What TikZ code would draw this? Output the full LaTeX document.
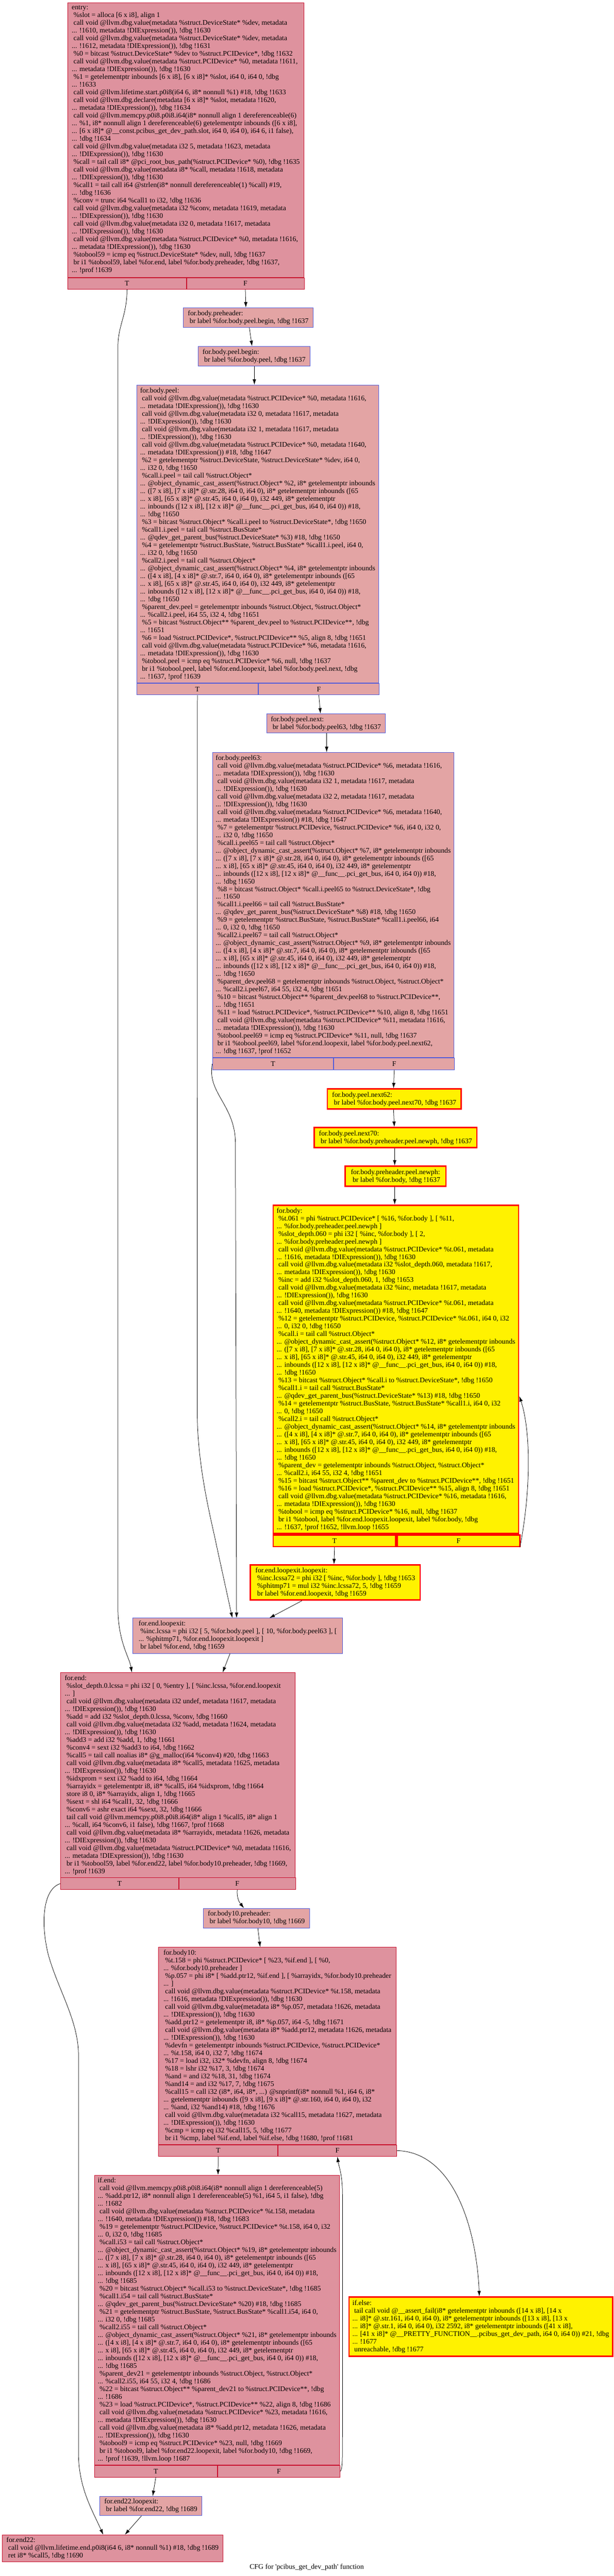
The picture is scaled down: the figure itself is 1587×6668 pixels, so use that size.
\documentclass[tikz,border=0pt]{standalone}
\usepackage{fontspec}
\setmainfont{Liberation Serif}[Ligatures=TeXOff]
\usetikzlibrary{arrows.meta}
\definecolor{hotfill}{RGB}{222,146,158}
\definecolor{hotline}{RGB}{200,16,46}
\definecolor{warmfill}{RGB}{227,164,164}
\definecolor{warmline}{RGB}{82,92,218}
\tikzset{
  blk/.style={rectangle, anchor=north west, align=left, inner xsep=8pt, inner ysep=0pt, line width=1.2pt, font=\fontsize{18.4}{20}\selectfont},
  hot/.style={blk, draw=hotline, fill=hotfill},
  warm/.style={blk, draw=warmline, fill=warmfill},
  yel/.style={blk, draw=red, fill=yellow, line width=3.5pt},
  tfcell/.style={minimum height=30pt, inner sep=0pt},
  cfgedge/.style={-{Latex[length=14pt,width=9pt]}, line width=1pt}
}
\newcommand{\tfrow}[4]{
  \node[#1, tfcell, minimum width=#3] (#2T) at (#2.south west) {T};
  \node[#1, tfcell, minimum width=#4] (#2F) at (#2T.north east) {F};
}

\begin{document}
\begin{tikzpicture}[x=1pt, y=-1pt]
\useasboundingbox (0,0) rectangle (1587,6668);

\node[hot, minimum width=610pt, minimum height=711pt] (entry) at (175,6) {entry:\\
~\%slot = alloca [6 x i8], align 1\\
~call void @llvm.dbg.value(metadata \%struct.DeviceState* \%dev, metadata\\
... !1610, metadata !DIExpression()), !dbg !1630\\
~call void @llvm.dbg.value(metadata \%struct.DeviceState* \%dev, metadata\\
... !1612, metadata !DIExpression()), !dbg !1631\\
~\%0 = bitcast \%struct.DeviceState* \%dev to \%struct.PCIDevice*, !dbg !1632\\
~call void @llvm.dbg.value(metadata \%struct.PCIDevice* \%0, metadata !1611,\\
... metadata !DIExpression()), !dbg !1630\\
~\%1 = getelementptr inbounds [6 x i8], [6 x i8]* \%slot, i64 0, i64 0, !dbg\\
... !1633\\
~call void @llvm.lifetime.start.p0i8(i64 6, i8* nonnull \%1) \#18, !dbg !1633\\
~call void @llvm.dbg.declare(metadata [6 x i8]* \%slot, metadata !1620,\\
... metadata !DIExpression()), !dbg !1634\\
~call void @llvm.memcpy.p0i8.p0i8.i64(i8* nonnull align 1 dereferenceable(6)\\
... \%1, i8* nonnull align 1 dereferenceable(6) getelementptr inbounds ([6 x i8],\\
... [6 x i8]* @\_\_const.pcibus\_get\_dev\_path.slot, i64 0, i64 0), i64 6, i1 false),\\
... !dbg !1634\\
~call void @llvm.dbg.value(metadata i32 5, metadata !1623, metadata\\
... !DIExpression()), !dbg !1630\\
~\%call = tail call i8* @pci\_root\_bus\_path(\%struct.PCIDevice* \%0), !dbg !1635\\
~call void @llvm.dbg.value(metadata i8* \%call, metadata !1618, metadata\\
... !DIExpression()), !dbg !1630\\
~\%call1 = tail call i64 @strlen(i8* nonnull dereferenceable(1) \%call) \#19,\\
... !dbg !1636\\
~\%conv = trunc i64 \%call1 to i32, !dbg !1636\\
~call void @llvm.dbg.value(metadata i32 \%conv, metadata !1619, metadata\\
... !DIExpression()), !dbg !1630\\
~call void @llvm.dbg.value(metadata i32 0, metadata !1617, metadata\\
... !DIExpression()), !dbg !1630\\
~call void @llvm.dbg.value(metadata \%struct.PCIDevice* \%0, metadata !1616,\\
... metadata !DIExpression()), !dbg !1630\\
~\%tobool59 = icmp eq \%struct.DeviceState* \%dev, null, !dbg !1637\\
~br i1 \%tobool59, label \%for.end, label \%for.body.preheader, !dbg !1637,\\
... !prof !1639};
\tfrow{hot}{entry}{306pt}{304pt}

\node[warm, minimum width=335pt, minimum height=51pt] (pre) at (474,796) {for.body.preheader:\\
~br label \%for.body.peel.begin, !dbg !1637};

\node[warm, minimum width=289pt, minimum height=51pt] (peelbegin) at (512,896) {for.body.peel.begin:\\
~br label \%for.body.peel, !dbg !1637};

\node[warm, minimum width=626pt, minimum height=771pt] (peel) at (353,996) {for.body.peel:\\
~call void @llvm.dbg.value(metadata \%struct.PCIDevice* \%0, metadata !1616,\\
... metadata !DIExpression()), !dbg !1630\\
~call void @llvm.dbg.value(metadata i32 0, metadata !1617, metadata\\
... !DIExpression()), !dbg !1630\\
~call void @llvm.dbg.value(metadata i32 1, metadata !1617, metadata\\
... !DIExpression()), !dbg !1630\\
~call void @llvm.dbg.value(metadata \%struct.PCIDevice* \%0, metadata !1640,\\
... metadata !DIExpression()) \#18, !dbg !1647\\
~\%2 = getelementptr \%struct.DeviceState, \%struct.DeviceState* \%dev, i64 0,\\
... i32 0, !dbg !1650\\
~\%call.i.peel = tail call \%struct.Object*\\
... @object\_dynamic\_cast\_assert(\%struct.Object* \%2, i8* getelementptr inbounds\\
... ([7 x i8], [7 x i8]* @.str.28, i64 0, i64 0), i8* getelementptr inbounds ([65\\
... x i8], [65 x i8]* @.str.45, i64 0, i64 0), i32 449, i8* getelementptr\\
... inbounds ([12 x i8], [12 x i8]* @\_\_func\_\_.pci\_get\_bus, i64 0, i64 0)) \#18,\\
... !dbg !1650\\
~\%3 = bitcast \%struct.Object* \%call.i.peel to \%struct.DeviceState*, !dbg !1650\\
~\%call1.i.peel = tail call \%struct.BusState*\\
... @qdev\_get\_parent\_bus(\%struct.DeviceState* \%3) \#18, !dbg !1650\\
~\%4 = getelementptr \%struct.BusState, \%struct.BusState* \%call1.i.peel, i64 0,\\
... i32 0, !dbg !1650\\
~\%call2.i.peel = tail call \%struct.Object*\\
... @object\_dynamic\_cast\_assert(\%struct.Object* \%4, i8* getelementptr inbounds\\
... ([4 x i8], [4 x i8]* @.str.7, i64 0, i64 0), i8* getelementptr inbounds ([65\\
... x i8], [65 x i8]* @.str.45, i64 0, i64 0), i32 449, i8* getelementptr\\
... inbounds ([12 x i8], [12 x i8]* @\_\_func\_\_.pci\_get\_bus, i64 0, i64 0)) \#18,\\
... !dbg !1650\\
~\%parent\_dev.peel = getelementptr inbounds \%struct.Object, \%struct.Object*\\
... \%call2.i.peel, i64 55, i32 4, !dbg !1651\\
~\%5 = bitcast \%struct.Object** \%parent\_dev.peel to \%struct.PCIDevice**, !dbg\\
... !1651\\
~\%6 = load \%struct.PCIDevice*, \%struct.PCIDevice** \%5, align 8, !dbg !1651\\
~call void @llvm.dbg.value(metadata \%struct.PCIDevice* \%6, metadata !1616,\\
... metadata !DIExpression()), !dbg !1630\\
~\%tobool.peel = icmp eq \%struct.PCIDevice* \%6, null, !dbg !1637\\
~br i1 \%tobool.peel, label \%for.end.loopexit, label \%for.body.peel.next, !dbg\\
... !1637, !prof !1639};
\tfrow{warm}{peel}{314pt}{312pt}

\node[warm, minimum width=307pt, minimum height=50pt] (peelnext) at (689,1847) {for.body.peel.next:\\
~br label \%for.body.peel63, !dbg !1637};

\node[warm, minimum width=625pt, minimum height=790pt] (peel63) at (549,1947) {for.body.peel63:\\
~call void @llvm.dbg.value(metadata \%struct.PCIDevice* \%6, metadata !1616,\\
... metadata !DIExpression()), !dbg !1630\\
~call void @llvm.dbg.value(metadata i32 1, metadata !1617, metadata\\
... !DIExpression()), !dbg !1630\\
~call void @llvm.dbg.value(metadata i32 2, metadata !1617, metadata\\
... !DIExpression()), !dbg !1630\\
~call void @llvm.dbg.value(metadata \%struct.PCIDevice* \%6, metadata !1640,\\
... metadata !DIExpression()) \#18, !dbg !1647\\
~\%7 = getelementptr \%struct.PCIDevice, \%struct.PCIDevice* \%6, i64 0, i32 0,\\
... i32 0, !dbg !1650\\
~\%call.i.peel65 = tail call \%struct.Object*\\
... @object\_dynamic\_cast\_assert(\%struct.Object* \%7, i8* getelementptr inbounds\\
... ([7 x i8], [7 x i8]* @.str.28, i64 0, i64 0), i8* getelementptr inbounds ([65\\
... x i8], [65 x i8]* @.str.45, i64 0, i64 0), i32 449, i8* getelementptr\\
... inbounds ([12 x i8], [12 x i8]* @\_\_func\_\_.pci\_get\_bus, i64 0, i64 0)) \#18,\\
... !dbg !1650\\
~\%8 = bitcast \%struct.Object* \%call.i.peel65 to \%struct.DeviceState*, !dbg\\
... !1650\\
~\%call1.i.peel66 = tail call \%struct.BusState*\\
... @qdev\_get\_parent\_bus(\%struct.DeviceState* \%8) \#18, !dbg !1650\\
~\%9 = getelementptr \%struct.BusState, \%struct.BusState* \%call1.i.peel66, i64\\
... 0, i32 0, !dbg !1650\\
~\%call2.i.peel67 = tail call \%struct.Object*\\
... @object\_dynamic\_cast\_assert(\%struct.Object* \%9, i8* getelementptr inbounds\\
... ([4 x i8], [4 x i8]* @.str.7, i64 0, i64 0), i8* getelementptr inbounds ([65\\
... x i8], [65 x i8]* @.str.45, i64 0, i64 0), i32 449, i8* getelementptr\\
... inbounds ([12 x i8], [12 x i8]* @\_\_func\_\_.pci\_get\_bus, i64 0, i64 0)) \#18,\\
... !dbg !1650\\
~\%parent\_dev.peel68 = getelementptr inbounds \%struct.Object, \%struct.Object*\\
... \%call2.i.peel67, i64 55, i32 4, !dbg !1651\\
~\%10 = bitcast \%struct.Object** \%parent\_dev.peel68 to \%struct.PCIDevice**,\\
... !dbg !1651\\
~\%11 = load \%struct.PCIDevice*, \%struct.PCIDevice** \%10, align 8, !dbg !1651\\
~call void @llvm.dbg.value(metadata \%struct.PCIDevice* \%11, metadata !1616,\\
... metadata !DIExpression()), !dbg !1630\\
~\%tobool.peel69 = icmp eq \%struct.PCIDevice* \%11, null, !dbg !1637\\
~br i1 \%tobool.peel69, label \%for.end.loopexit, label \%for.body.peel.next62,\\
... !dbg !1637, !prof !1652};
\tfrow{warm}{peel63}{313pt}{312pt}

\node[yel, minimum width=346pt, minimum height=52pt] (next62) at (845,2817) {for.body.peel.next62:\\
~br label \%for.body.peel.next70, !dbg !1637};

\node[yel, minimum width=421pt, minimum height=52pt] (next70) at (811,2917) {for.body.peel.next70:\\
~br label \%for.body.preheader.peel.newph, !dbg !1637};

\node[yel, minimum width=261pt, minimum height=52pt] (newph) at (891,3017) {for.body.preheader.peel.newph:\\
~br label \%for.body, !dbg !1637};

\node[yel, minimum width=635pt, minimum height=850pt] (body) at (705,3118) {for.body:\\
~\%t.061 = phi \%struct.PCIDevice* [ \%16, \%for.body ], [ \%11,\\
... \%for.body.preheader.peel.newph ]\\
~\%slot\_depth.060 = phi i32 [ \%inc, \%for.body ], [ 2,\\
... \%for.body.preheader.peel.newph ]\\
~call void @llvm.dbg.value(metadata \%struct.PCIDevice* \%t.061, metadata\\
... !1616, metadata !DIExpression()), !dbg !1630\\
~call void @llvm.dbg.value(metadata i32 \%slot\_depth.060, metadata !1617,\\
... metadata !DIExpression()), !dbg !1630\\
~\%inc = add i32 \%slot\_depth.060, 1, !dbg !1653\\
~call void @llvm.dbg.value(metadata i32 \%inc, metadata !1617, metadata\\
... !DIExpression()), !dbg !1630\\
~call void @llvm.dbg.value(metadata \%struct.PCIDevice* \%t.061, metadata\\
... !1640, metadata !DIExpression()) \#18, !dbg !1647\\
~\%12 = getelementptr \%struct.PCIDevice, \%struct.PCIDevice* \%t.061, i64 0, i32\\
... 0, i32 0, !dbg !1650\\
~\%call.i = tail call \%struct.Object*\\
... @object\_dynamic\_cast\_assert(\%struct.Object* \%12, i8* getelementptr inbounds\\
... ([7 x i8], [7 x i8]* @.str.28, i64 0, i64 0), i8* getelementptr inbounds ([65\\
... x i8], [65 x i8]* @.str.45, i64 0, i64 0), i32 449, i8* getelementptr\\
... inbounds ([12 x i8], [12 x i8]* @\_\_func\_\_.pci\_get\_bus, i64 0, i64 0)) \#18,\\
... !dbg !1650\\
~\%13 = bitcast \%struct.Object* \%call.i to \%struct.DeviceState*, !dbg !1650\\
~\%call1.i = tail call \%struct.BusState*\\
... @qdev\_get\_parent\_bus(\%struct.DeviceState* \%13) \#18, !dbg !1650\\
~\%14 = getelementptr \%struct.BusState, \%struct.BusState* \%call1.i, i64 0, i32\\
... 0, !dbg !1650\\
~\%call2.i = tail call \%struct.Object*\\
... @object\_dynamic\_cast\_assert(\%struct.Object* \%14, i8* getelementptr inbounds\\
... ([4 x i8], [4 x i8]* @.str.7, i64 0, i64 0), i8* getelementptr inbounds ([65\\
... x i8], [65 x i8]* @.str.45, i64 0, i64 0), i32 449, i8* getelementptr\\
... inbounds ([12 x i8], [12 x i8]* @\_\_func\_\_.pci\_get\_bus, i64 0, i64 0)) \#18,\\
... !dbg !1650\\
~\%parent\_dev = getelementptr inbounds \%struct.Object, \%struct.Object*\\
... \%call2.i, i64 55, i32 4, !dbg !1651\\
~\%15 = bitcast \%struct.Object** \%parent\_dev to \%struct.PCIDevice**, !dbg !1651\\
~\%16 = load \%struct.PCIDevice*, \%struct.PCIDevice** \%15, align 8, !dbg !1651\\
~call void @llvm.dbg.value(metadata \%struct.PCIDevice* \%16, metadata !1616,\\
... metadata !DIExpression()), !dbg !1630\\
~\%tobool = icmp eq \%struct.PCIDevice* \%16, null, !dbg !1637\\
~br i1 \%tobool, label \%for.end.loopexit.loopexit, label \%for.body, !dbg\\
... !1637, !prof !1652, !llvm.loop !1655};
\tfrow{yel}{body}{317pt}{318pt}

\node[yel, minimum width=439pt, minimum height=91pt] (exit2) at (646,4049) {for.end.loopexit.loopexit:\\
~\%inc.lcssa72 = phi i32 [ \%inc, \%for.body ], !dbg !1653\\
~\%phitmp71 = mul i32 \%inc.lcssa72, 5, !dbg !1659\\
~br label \%for.end.loopexit, !dbg !1659};

\node[warm, minimum width=543pt, minimum height=91pt] (exit) at (343,4188) {for.end.loopexit:\\
~\%inc.lcssa = phi i32 [ 5, \%for.body.peel ], [ 10, \%for.body.peel63 ], [\\
... \%phitmp71, \%for.end.loopexit.loopexit ]\\
~br label \%for.end, !dbg !1659};

\node[hot, minimum width=607pt, minimum height=530pt] (forend) at (156,4329) {for.end:\\
~\%slot\_depth.0.lcssa = phi i32 [ 0, \%entry ], [ \%inc.lcssa, \%for.end.loopexit\\
... ]\\
~call void @llvm.dbg.value(metadata i32 undef, metadata !1617, metadata\\
... !DIExpression()), !dbg !1630\\
~\%add = add i32 \%slot\_depth.0.lcssa, \%conv, !dbg !1660\\
~call void @llvm.dbg.value(metadata i32 \%add, metadata !1624, metadata\\
... !DIExpression()), !dbg !1630\\
~\%add3 = add i32 \%add, 1, !dbg !1661\\
~\%conv4 = sext i32 \%add3 to i64, !dbg !1662\\
~\%call5 = tail call noalias i8* @g\_malloc(i64 \%conv4) \#20, !dbg !1663\\
~call void @llvm.dbg.value(metadata i8* \%call5, metadata !1625, metadata\\
... !DIExpression()), !dbg !1630\\
~\%idxprom = sext i32 \%add to i64, !dbg !1664\\
~\%arrayidx = getelementptr i8, i8* \%call5, i64 \%idxprom, !dbg !1664\\
~store i8 0, i8* \%arrayidx, align 1, !dbg !1665\\
~\%sext = shl i64 \%call1, 32, !dbg !1666\\
~\%conv6 = ashr exact i64 \%sext, 32, !dbg !1666\\
~tail call void @llvm.memcpy.p0i8.p0i8.i64(i8* align 1 \%call5, i8* align 1\\
... \%call, i64 \%conv6, i1 false), !dbg !1667, !prof !1668\\
~call void @llvm.dbg.value(metadata i8* \%arrayidx, metadata !1626, metadata\\
... !DIExpression()), !dbg !1630\\
~call void @llvm.dbg.value(metadata \%struct.PCIDevice* \%0, metadata !1616,\\
... metadata !DIExpression()), !dbg !1630\\
~br i1 \%tobool59, label \%for.end22, label \%for.body10.preheader, !dbg !1669,\\
... !prof !1639};
\tfrow{hot}{forend}{305pt}{302pt}

\node[warm, minimum width=275pt, minimum height=51pt] (b10pre) at (525,4939) {for.body10.preheader:\\
~br label \%for.body10, !dbg !1669};

\node[hot, minimum width=614pt, minimum height=510pt] (body10) at (410,5040) {for.body10:\\
~\%t.158 = phi \%struct.PCIDevice* [ \%23, \%if.end ], [ \%0,\\
... \%for.body10.preheader ]\\
~\%p.057 = phi i8* [ \%add.ptr12, \%if.end ], [ \%arrayidx, \%for.body10.preheader\\
... ]\\
~call void @llvm.dbg.value(metadata \%struct.PCIDevice* \%t.158, metadata\\
... !1616, metadata !DIExpression()), !dbg !1630\\
~call void @llvm.dbg.value(metadata i8* \%p.057, metadata !1626, metadata\\
... !DIExpression()), !dbg !1630\\
~\%add.ptr12 = getelementptr i8, i8* \%p.057, i64 -5, !dbg !1671\\
~call void @llvm.dbg.value(metadata i8* \%add.ptr12, metadata !1626, metadata\\
... !DIExpression()), !dbg !1630\\
~\%devfn = getelementptr inbounds \%struct.PCIDevice, \%struct.PCIDevice*\\
... \%t.158, i64 0, i32 7, !dbg !1674\\
~\%17 = load i32, i32* \%devfn, align 8, !dbg !1674\\
~\%18 = lshr i32 \%17, 3, !dbg !1674\\
~\%and = and i32 \%18, 31, !dbg !1674\\
~\%and14 = and i32 \%17, 7, !dbg !1675\\
~\%call15 = call i32 (i8*, i64, i8*, ...) @snprintf(i8* nonnull \%1, i64 6, i8*\\
... getelementptr inbounds ([9 x i8], [9 x i8]* @.str.160, i64 0, i64 0), i32\\
... \%and, i32 \%and14) \#18, !dbg !1676\\
~call void @llvm.dbg.value(metadata i32 \%call15, metadata !1627, metadata\\
... !DIExpression()), !dbg !1630\\
~\%cmp = icmp eq i32 \%call15, 5, !dbg !1677\\
~br i1 \%cmp, label \%if.end, label \%if.else, !dbg !1680, !prof !1681};
\tfrow{hot}{body10}{308pt}{306pt}

\node[hot, minimum width=634pt, minimum height=750pt] (ifend) at (244,5630) {if.end:\\
~call void @llvm.memcpy.p0i8.p0i8.i64(i8* nonnull align 1 dereferenceable(5)\\
... \%add.ptr12, i8* nonnull align 1 dereferenceable(5) \%1, i64 5, i1 false), !dbg\\
... !1682\\
~call void @llvm.dbg.value(metadata \%struct.PCIDevice* \%t.158, metadata\\
... !1640, metadata !DIExpression()) \#18, !dbg !1683\\
~\%19 = getelementptr \%struct.PCIDevice, \%struct.PCIDevice* \%t.158, i64 0, i32\\
... 0, i32 0, !dbg !1685\\
~\%call.i53 = tail call \%struct.Object*\\
... @object\_dynamic\_cast\_assert(\%struct.Object* \%19, i8* getelementptr inbounds\\
... ([7 x i8], [7 x i8]* @.str.28, i64 0, i64 0), i8* getelementptr inbounds ([65\\
... x i8], [65 x i8]* @.str.45, i64 0, i64 0), i32 449, i8* getelementptr\\
... inbounds ([12 x i8], [12 x i8]* @\_\_func\_\_.pci\_get\_bus, i64 0, i64 0)) \#18,\\
... !dbg !1685\\
~\%20 = bitcast \%struct.Object* \%call.i53 to \%struct.DeviceState*, !dbg !1685\\
~\%call1.i54 = tail call \%struct.BusState*\\
... @qdev\_get\_parent\_bus(\%struct.DeviceState* \%20) \#18, !dbg !1685\\
~\%21 = getelementptr \%struct.BusState, \%struct.BusState* \%call1.i54, i64 0,\\
... i32 0, !dbg !1685\\
~\%call2.i55 = tail call \%struct.Object*\\
... @object\_dynamic\_cast\_assert(\%struct.Object* \%21, i8* getelementptr inbounds\\
... ([4 x i8], [4 x i8]* @.str.7, i64 0, i64 0), i8* getelementptr inbounds ([65\\
... x i8], [65 x i8]* @.str.45, i64 0, i64 0), i32 449, i8* getelementptr\\
... inbounds ([12 x i8], [12 x i8]* @\_\_func\_\_.pci\_get\_bus, i64 0, i64 0)) \#18,\\
... !dbg !1685\\
~\%parent\_dev21 = getelementptr inbounds \%struct.Object, \%struct.Object*\\
... \%call2.i55, i64 55, i32 4, !dbg !1686\\
~\%22 = bitcast \%struct.Object** \%parent\_dev21 to \%struct.PCIDevice**, !dbg\\
... !1686\\
~\%23 = load \%struct.PCIDevice*, \%struct.PCIDevice** \%22, align 8, !dbg !1686\\
~call void @llvm.dbg.value(metadata \%struct.PCIDevice* \%23, metadata !1616,\\
... metadata !DIExpression()), !dbg !1630\\
~call void @llvm.dbg.value(metadata i8* \%add.ptr12, metadata !1626, metadata\\
... !DIExpression()), !dbg !1630\\
~\%tobool9 = icmp eq \%struct.PCIDevice* \%23, null, !dbg !1669\\
~br i1 \%tobool9, label \%for.end22.loopexit, label \%for.body10, !dbg !1669,\\
... !prof !1639, !llvm.loop !1687};
\tfrow{hot}{ifend}{317pt}{317pt}

\node[yel, minimum width=682pt, minimum height=153pt] (ifelse) at (901,5944) {if.else:\\
~tail call void @\_\_assert\_fail(i8* getelementptr inbounds ([14 x i8], [14 x\\
... i8]* @.str.161, i64 0, i64 0), i8* getelementptr inbounds ([13 x i8], [13 x\\
... i8]* @.str.1, i64 0, i64 0), i32 2592, i8* getelementptr inbounds ([41 x i8],\\
... [41 x i8]* @\_\_PRETTY\_FUNCTION\_\_.pcibus\_get\_dev\_path, i64 0, i64 0)) \#21, !dbg\\
... !1677\\
~unreachable, !dbg !1677};

\node[warm, minimum width=263pt, minimum height=50pt] (e22pre) at (258,6461) {for.end22.loopexit:\\
~br label \%for.end22, !dbg !1689};

\node[hot, minimum width=571pt, minimum height=70pt] (end22) at (5,6561) {for.end22:\\
~call void @llvm.lifetime.end.p0i8(i64 6, i8* nonnull \%1) \#18, !dbg !1689\\
~ret i8* \%call5, !dbg !1690};

\node[font=\fontsize{18.4}{20}\selectfont] (title) at (793.5,6646) {CFG for 'pcibus\_get\_dev\_path' function};

\draw[cfgedge] (entryT.south) .. controls (328,820) and (305,840) .. (305,900) -- (305,4160) .. controls (305,4250) and (335,4290) .. ([xshift=185pt]forend.north west);
\draw[cfgedge] (entryF.south) -- ([xshift=162pt]pre.north west);
\draw[cfgedge] ([xshift=171pt]pre.south west) -- ([xshift=140pt]peelbegin.north west);
\draw[cfgedge] ([xshift=146pt]peelbegin.south west) -- ([xshift=305pt]peel.north west);
\draw[cfgedge] (peelT.south) -- (510,3650) .. controls (510,3800) and (548,3940) .. (560,4000) -- ([xshift=258pt]exit.north west);
\draw[cfgedge] (peelF.south) -- ([xshift=140pt]peelnext.north west);
\draw[cfgedge] ([xshift=156pt]peelnext.south west) -- ([xshift=296pt]peel63.north west);
\draw[cfgedge] (peel63T.west) .. controls (535,2830) and (609,2860) .. (609,2960) -- ([xshift=269pt]exit.north west);
\draw[cfgedge] (peel63F.south) -- ([xshift=173pt]next62.north west);
\draw[cfgedge] ([xshift=173pt]next62.south west) -- ([xshift=209pt]next70.north west);
\draw[cfgedge] ([xshift=210pt]next70.south west) -- ([xshift=130pt]newph.north west);
\draw[cfgedge] ([xshift=130pt]newph.south west) -- ([xshift=316pt]body.north west);
\draw[cfgedge] (bodyT.south) -- ([xshift=218pt]exit2.north west);
\draw[cfgedge] ([xshift=-2pt]bodyF.south east) .. controls (1375,3850) and (1372,3700) .. ([yshift=-496pt]body.north east);
\draw[cfgedge] ([xshift=135pt]exit2.south west) -- ([xshift=354pt]exit.north west);
\draw[cfgedge] ([xshift=252pt]exit.south west) -- ([xshift=420pt]forend.north west);
\draw[cfgedge] (forendT.west) .. controls (110,4890) and (105,4980) .. (125,5060) .. controls (150,5150) and (203,5230) .. (203,5320) -- (203,6350) .. controls (203,6440) and (240,6500) .. ([xshift=262pt]end22.north west);
\draw[cfgedge] (forendF.south) .. controls (612,4915) and (620,4925) .. ([xshift=106pt]b10pre.north west);
\draw[cfgedge] ([xshift=142pt]b10pre.south west) -- ([xshift=263pt]body10.north west);
\draw[cfgedge] (body10T.south) -- ([xshift=320pt]ifend.north west);
\draw[cfgedge] (body10F.east) .. controls (1170,5570) and (1232,5760) .. ([xshift=339pt]ifelse.north west);
\draw[cfgedge] (ifendT.south) -- ([xshift=137pt]e22pre.north west);
\draw[cfgedge] (ifendF.east) .. controls (886,6390) and (886,6370) .. (886,6300) -- (886,5680) .. controls (886,5630) and (876,5605) .. (body10F.south);
\draw[cfgedge] ([xshift=108pt]e22pre.south west) -- ([xshift=318pt]end22.north west);
\end{tikzpicture}
\end{document}
